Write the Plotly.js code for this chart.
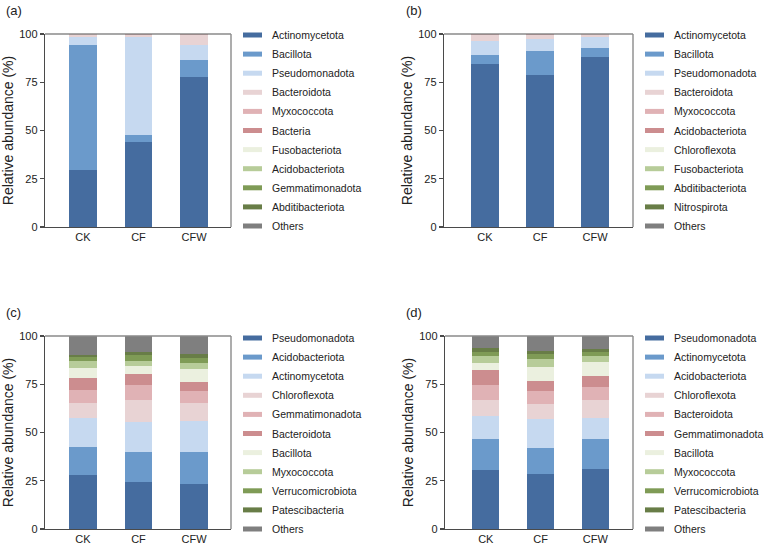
<!DOCTYPE html>
<html>
<head>
<meta charset="utf-8">
<script src="https://cdn.plot.ly/plotly-3.0.1.min.js"></script>
<style>
  html, body { margin: 0; padding: 0; background: #fff; }
  #chart { width: 767px; height: 546px; }
</style>
</head>
<body>
<div id="chart"></div>
<script>
// Sample groups on the x axis
const samples = ['CK', 'CF', 'CFW'];

// Shared fill colours, bottom segment first
const palette = ['#456c9f', '#6b9acb', '#c6d9f0', '#e8d3d4', '#e0b2b5', '#cc8d8f',
                 '#ebf0df', '#b7cc99', '#7f9b56', '#687d47', '#7f7f7f'];

// (a) phylum relative abundance (%)
const namesA = ['Actinomycetota', 'Bacillota', 'Pseudomonadota', 'Bacteroidota', 'Myxococcota',
                'Bacteria', 'Fusobacteriota', 'Acidobacteriota', 'Gemmatimonadota', 'Abditibacteriota', 'Others'];
const a_CK  = [29.5, 65.0, 3.9, 1.2, 0.15, 0.05, 0.04, 0.03, 0.02, 0.01, 0.10];
const a_CF  = [44.0, 3.7, 50.6, 1.2, 0.20, 0.10, 0.05, 0.05, 0.03, 0.02, 0.05];
const a_CFW = [77.6, 9.1, 7.4, 5.2, 0.30, 0.15, 0.05, 0.05, 0.03, 0.02, 0.10];

// (b) phylum relative abundance (%)
const namesB = ['Actinomycetota', 'Bacillota', 'Pseudomonadota', 'Bacteroidota', 'Myxococcota',
                'Acidobacteriota', 'Chloroflexota', 'Fusobacteriota', 'Abditibacteriota', 'Nitrospirota', 'Others'];
const b_CK  = [84.6, 4.7, 7.2, 2.8, 0.30, 0.15, 0.05, 0.05, 0.02, 0.03, 0.10];
const b_CF  = [79.0, 12.3, 6.1, 1.9, 0.30, 0.20, 0.05, 0.05, 0.02, 0.03, 0.05];
const b_CFW = [88.1, 4.6, 5.7, 1.2, 0.15, 0.05, 0.05, 0.03, 0.01, 0.01, 0.10];

// (c) phylum relative abundance (%)
const namesC = ['Pseudomonadota', 'Acidobacteriota', 'Actinomycetota', 'Chloroflexota', 'Gemmatimonadota',
                'Bacteroidota', 'Bacillota', 'Myxococcota', 'Verrucomicrobiota', 'Patescibacteria', 'Others'];
const c_CK  = [28.2, 14.5, 14.7, 8.0, 6.6, 6.1, 5.1, 3.8, 2.0, 1.0, 10.0];
const c_CF  = [24.5, 15.6, 15.5, 11.2, 7.8, 5.5, 4.5, 2.6, 3.1, 1.4, 8.3];
const c_CFW = [23.5, 16.6, 15.9, 9.1, 6.6, 4.6, 6.6, 3.3, 2.6, 2.0, 9.2];

// (d) phylum relative abundance (%)
const namesD = ['Pseudomonadota', 'Actinomycetota', 'Acidobacteriota', 'Chloroflexota', 'Bacteroidota',
                'Gemmatimonadota', 'Bacillota', 'Myxococcota', 'Verrucomicrobiota', 'Patescibacteria', 'Others'];
const d_CK  = [30.7, 15.8, 12.0, 8.3, 7.8, 7.8, 3.8, 3.4, 2.3, 1.7, 6.4];
const d_CF  = [28.3, 13.5, 15.0, 8.0, 6.9, 5.1, 7.3, 3.8, 2.8, 1.5, 7.8];
const d_CFW = [31.1, 15.4, 10.9, 9.4, 6.9, 5.7, 7.1, 3.3, 2.1, 1.2, 6.9];

const yTicks = [0, 25, 50, 75, 100];

// Page geometry (pixels)
const W = 767, H = 546;
const FONT = 'Liberation Sans, Arial, sans-serif';

const panels = [
  { tag: '(a)', names: namesA, cols: [a_CK, a_CF, a_CFW], xa: 'x',  ya: 'y',  box: [45, 231, 34, 227],  range: [-0.685, 2.667], legX: 243, legY: 35,  labelPos: [4, 10] },
  { tag: '(b)', names: namesB, cols: [b_CK, b_CF, b_CFW], xa: 'x2', ya: 'y2', box: [444, 633, 34, 227], range: [-0.745, 2.69],  legX: 645, legY: 35,  labelPos: [404, 10] },
  { tag: '(c)', names: namesC, cols: [c_CK, c_CF, c_CFW], xa: 'x3', ya: 'y3', box: [45, 231, 336, 529], range: [-0.685, 2.667], legX: 243, legY: 338, labelPos: [4, 312] },
  { tag: '(d)', names: namesD, cols: [d_CK, d_CF, d_CFW], xa: 'x4', ya: 'y4', box: [445, 633, 336, 529], range: [-0.745, 2.69], legX: 645, legY: 338, labelPos: [404, 312] }
];

const px = v => v / W;
const py = v => 1 - v / H;

const traces = [];
const shapes = [];
const annotations = [];
const layout = {
  width: W, height: H,
  margin: { l: 0, r: 0, t: 0, b: 0 },
  paper_bgcolor: '#fff', plot_bgcolor: '#fff',
  barmode: 'stack', bargap: 0.5,
  showlegend: false,
  font: { family: FONT, size: 11, color: '#222' }
};

panels.forEach((p, pi) => {
  const n = pi === 0 ? '' : String(pi + 1);
  const [x0, x1, y0, y1] = p.box;

  p.names.forEach((name, si) => {
    traces.push({
      type: 'bar',
      name: name,
      x: samples,
      y: p.cols.map(col => col[si]),
      xaxis: p.xa, yaxis: p.ya,
      width: 0.5,
      marker: { color: palette[si], line: { width: 0 } },
      hovertemplate: name + ': %{y}%<extra>%{x}</extra>'
    });

    // legend row: thin swatch + label
    const yy = p.legY + si * 19.1;
    shapes.push({
      type: 'rect', xref: 'paper', yref: 'paper',
      x0: px(p.legX), x1: px(p.legX + 19), y0: py(yy - 2.5), y1: py(yy + 2.5),
      fillcolor: palette[si], line: { width: 0 }
    });
    annotations.push({
      xref: 'paper', yref: 'paper', x: px(p.legX + 27), y: py(yy),
      xanchor: 'left', yanchor: 'middle', showarrow: false,
      text: name, font: { family: FONT, size: 10.5, color: '#222' }
    });
  });

  layout['xaxis' + n] = {
    domain: [px(x0), px(x1)], anchor: 'y' + n,
    range: p.range, type: 'category',
    showgrid: false, zeroline: false,
    showline: true, linecolor: '#4a4a4a', linewidth: 1.2,
    ticks: '', tickfont: { family: FONT, size: 11, color: '#222' },
    fixedrange: true
  };
  layout['yaxis' + n] = {
    domain: [py(y1), py(y0)], anchor: 'x' + n,
    range: [0, 100], tickvals: yTicks, ticktext: yTicks.map(String),
    showgrid: false, zeroline: false,
    showline: true, linecolor: '#4a4a4a', linewidth: 1.2,
    ticks: 'outside', ticklen: 4, tickcolor: '#4a4a4a', tickwidth: 1.2,
    tickfont: { family: FONT, size: 11, color: '#222' },
    title: { text: 'Relative abundance (%)', font: { family: FONT, size: 14, color: '#222' }, standoff: 2 },
    fixedrange: true
  };

  // upper and right frame edges in a lighter grey
  shapes.push({
    type: 'line', xref: 'paper', yref: 'paper',
    x0: px(x0), x1: px(x1), y0: py(y0), y1: py(y0),
    line: { color: '#8a8a8a', width: 1.4 }
  });
  shapes.push({
    type: 'line', xref: 'paper', yref: 'paper',
    x0: px(x1), x1: px(x1), y0: py(y0), y1: py(y1),
    line: { color: '#8a8a8a', width: 1.4 }
  });

  annotations.push({
    xref: 'paper', yref: 'paper', x: px(p.labelPos[0]), y: py(p.labelPos[1]),
    xanchor: 'left', yanchor: 'middle', showarrow: false,
    text: p.tag, font: { family: FONT, size: 13, color: '#222' }
  });
});

layout.shapes = shapes;
layout.annotations = annotations;

Plotly.newPlot('chart', traces, layout, { displayModeBar: false, staticPlot: true });
</script>
</body>
</html>
